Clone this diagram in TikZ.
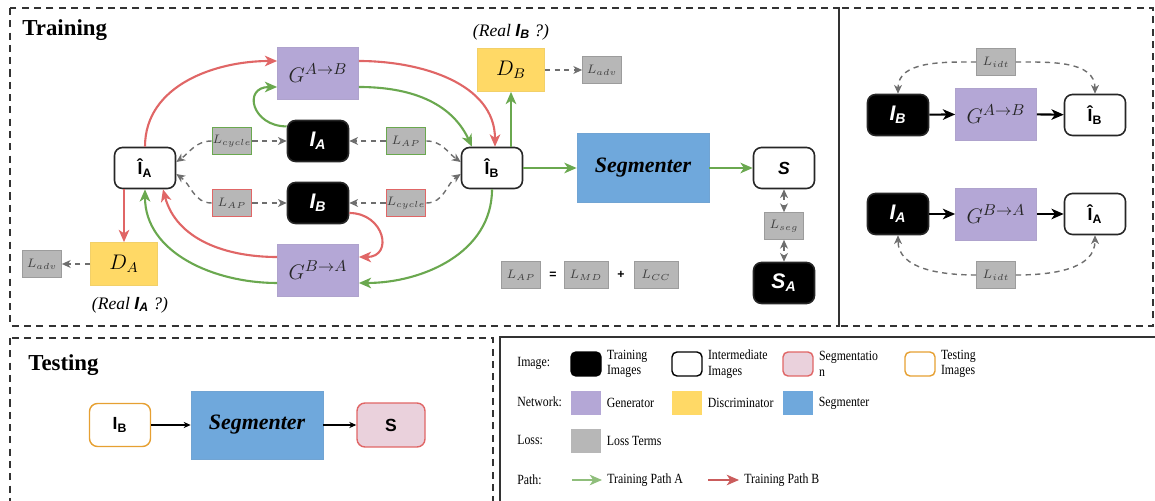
\documentclass[tikz,border=0pt]{standalone}
\usepackage{fontspec}
\setmainfont{Liberation Serif}
\setsansfont{Liberation Sans}
\newfontfamily\legfont[FakeStretch=0.84]{Liberation Serif}
\usetikzlibrary{arrows.meta,positioning}
\definecolor{pathgreen}{RGB}{106,168,79}
\definecolor{pathred}{RGB}{224,102,102}
\definecolor{genpurple}{RGB}{180,167,214}
\definecolor{discyellow}{RGB}{255,217,102}
\definecolor{segblue}{RGB}{111,168,220}
\definecolor{lossgray}{RGB}{183,183,183}
\definecolor{segpink}{RGB}{234,209,220}
\definecolor{testorange}{RGB}{230,160,50}
\definecolor{dashgray}{RGB}{110,110,110}
\newcommand{\imghat}[1]{Î\textsubscript{#1}}
\newcommand{\imgreal}[1]{I\textsubscript{#1}}
\tikzset{
    % 彩色路径箭头
    greenarrow/.style={
        line width=1.2pt,
        pathgreen,
        ->,
        >={Stealth[length=7pt, width=6pt, inset=2pt]}
    },
    redarrow/.style={
        line width=1.2pt,
        pathred,
        ->,
        >={Stealth[length=7pt, width=6pt, inset=2pt]}
    },
    % 损失的灰色虚线箭头
    lossarrow/.style={
        line width=0.8pt,
        dashgray,
        dash pattern=on 3pt off 2.5pt,
        ->,
        >={Stealth[length=5pt, width=4.5pt, inset=1.5pt]}
    },
    blackarrow/.style={
        line width=1.2pt,
        black,
        ->,
        >={Stealth[length=7pt, width=6pt, inset=2pt]}
    },
    thinarrow/.style={
        line width=0.6pt,
        black,
        ->,
        >={Stealth[length=4pt, width=3.5pt]}
    },
    imgbox/.style={
        rectangle, rounded corners=0.16cm,
        draw=black!85, line width=0.9pt, fill=white,
        minimum width=1.22cm, minimum height=0.82cm, inner sep=0pt,
        font=\sffamily\bfseries\fontsize{10}{12}\selectfont
    },
    trainbox/.style={
        imgbox, fill=black, text=white,
        font=\sffamily\bfseries\itshape\fontsize{12}{14}\selectfont
    },
    genbox/.style={
        rectangle, fill=genpurple, draw=genpurple!90!gray, line width=0.4pt,
        minimum width=1.62cm, minimum height=1.04cm, inner sep=0pt,
        text=black!85, font=\fontsize{13}{15}\selectfont
    },
    discbox/.style={
        rectangle, fill=discyellow, draw=discyellow!90!gray, line width=0.4pt,
        minimum width=1.34cm, minimum height=0.86cm, inner sep=0pt,
        font=\fontsize{12}{14}\selectfont
    },
    segbox/.style={
        rectangle, fill=segblue, draw=segblue!90!gray, line width=0.4pt,
        minimum width=2.64cm, minimum height=1.38cm, inner sep=0pt,
        font=\bfseries\itshape\fontsize{12.5}{14}\selectfont
    },
    lossbox/.style={
        rectangle, fill=lossgray, draw=lossgray!85!black, line width=0.4pt,
        minimum width=0.78cm, minimum height=0.54cm, inner sep=0pt,
        text=black!75, font=\fontsize{7}{8}\selectfont
    },
    lossgreen/.style={lossbox, draw=pathgreen, line width=1pt},
    lossred/.style={lossbox, draw=pathred, line width=1pt},
    frame/.style={dashed, line width=0.8pt, black!80, dash pattern=on 4pt off 3pt},
    paneltitle/.style={anchor=west, inner sep=0pt, font=\bfseries\fontsize{13}{15}\selectfont},
    legtext/.style={anchor=west, inner sep=0pt, align=left, font=\legfont\fontsize{8}{8.8}\selectfont},
    legswatch/.style={rectangle, minimum width=0.6cm, minimum height=0.48cm, inner sep=0pt, line width=0.6pt},
    legimg/.style={legswatch, rounded corners=0.1cm, line width=0.8pt}
}
\begin{document}
\begin{tikzpicture}[x=0.02cm, y=0.02cm]
    \useasboundingbox (0,0) rectangle (1155,500);
    \clip (0,0) rectangle (1155,500);

    % 外框
    \draw[frame] (10,492) rectangle (839,174);
    \draw[frame] (839,492) rectangle (1153,174);
    \draw[frame] (10,162) rectangle (493,-5);
    \draw[line width=1pt, black!80] (500,163) rectangle (1160,-5);

    \node[paneltitle] (traintitle) at (22,470) {Training};
    \node[paneltitle] (testtitle) at (28,135) {Testing};

    % 训练部分的节点
    \node[imgbox] (IhA) at (145,332) {\imghat{A}};
    \node[genbox] (GAB) at (318,427) {$G^{A\rightarrow B}$};
    \node[trainbox] (IA) at (318,359) {\imgreal{A}};
    \node[trainbox] (IB) at (318,297) {\imgreal{B}};
    \node[genbox] (GBA) at (318,230) {$G^{B\rightarrow A}$};
    \node[discbox] (DA) at (124,236) {$D_A$};
    \node[lossbox] (LadvA) at (42,236) {$L_{adv}$};
    \node[lossgreen] (LcycA) at (232,359) {$L_{cycle}$};
    \node[lossred] (LapA) at (232,297) {$L_{AP}$};
    \node[lossgreen] (LapB) at (406,359) {$L_{AP}$};
    \node[lossred] (LcycB) at (406,297) {$L_{cycle}$};
    \node[imgbox] (IhB) at (492,332) {\imghat{B}};
    \node[discbox] (DB) at (511,430) {$D_B$};
    \node[lossbox] (LadvB) at (602,430) {$L_{adv}$};
    \node[segbox] (Seg) at (643,332) {Segmenter};
    \node[imgbox] (S) at (784,332) {\itshape S};
    \node[lossbox] (Lseg) at (784,274) {$L_{seg}$};
    \node[trainbox] (SA) at (784,217) {S\textsubscript{A}};
    \node[font=\itshape\fontsize{10}{12}\selectfont] (realA) at (130,195)
        {(Real {\sffamily\bfseries\imgreal{A}} ?)};
    \node[font=\itshape\fontsize{10}{12}\selectfont] (realB) at (511,468)
        {(Real {\sffamily\bfseries\imgreal{B}} ?)};

    % L_AP = L_MD + L_CC
    \node[lossbox] (LAPsum) at (521,225) {$L_{AP}$};
    \node[font=\sffamily\bfseries\fontsize{7}{8}\selectfont] (eqsign) at (553,225) {=};
    \node[lossbox, minimum width=0.88cm] (LMD) at (586,225) {$L_{MD}$};
    \node[font=\sffamily\bfseries\fontsize{7}{8}\selectfont] (plussign) at (621,225) {+};
    \node[lossbox, minimum width=0.88cm] (LCC) at (656,225) {$L_{CC}$};

    % 路径 B (红色)
    \draw[redarrow] (IhA.north) to[out=90,in=180] ([yshift=0.24cm]GAB.west);
    \draw[redarrow] ([yshift=0.24cm]GAB.east) to[out=0,in=90] ([xshift=0.06cm]IhB.north);
    \draw[redarrow] ([yshift=-0.2cm]IB.east) to[out=0,in=0,looseness=2] ([yshift=0.26cm]GBA.east);
    \draw[redarrow] ([yshift=0.26cm]GBA.west) to[out=180,in=-75] ([xshift=0.36cm]IhA.south);
    \draw[redarrow] (IhA.south -| DA.north) -- (DA.north);

    % 路径 A (绿色)
    \draw[greenarrow] (IA.155) to[out=180,in=180,looseness=2.2] ([yshift=-0.28cm]GAB.west);
    \draw[greenarrow] ([yshift=-0.28cm]GAB.east) to[out=0,in=115] ([xshift=-0.4cm]IhB.north);
    \draw[greenarrow] (IhB.north -| DB.south) -- (DB.south);
    \draw[greenarrow] (IhB.south) to[out=-90,in=0] ([yshift=-0.26cm]GBA.east);
    \draw[greenarrow] ([yshift=-0.26cm]GBA.west) to[out=180,in=-90] (IhA.south);
    \draw[greenarrow] (IhB.east) -- (Seg.west);
    \draw[greenarrow] (Seg.east) -- (S.west);

    % 损失 (虚线)
    \draw[lossarrow] (LcycA.east) -- (IA.west);
    \draw[lossarrow] (LcycA.west) to[out=180,in=35] ([yshift=0.12cm]IhA.east);
    \draw[lossarrow] (LapA.east) -- (IB.west);
    \draw[lossarrow] (LapA.west) to[out=180,in=-35] ([yshift=-0.12cm]IhA.east);
    \draw[lossarrow] (LapB.west) -- (IA.east);
    \draw[lossarrow] (LapB.east) to[out=0,in=145] ([yshift=0.12cm]IhB.west);
    \draw[lossarrow] (LcycB.west) -- (IB.east);
    \draw[lossarrow] (LcycB.east) to[out=0,in=-145] ([yshift=-0.12cm]IhB.west);
    \draw[lossarrow] (DB.east) -- (LadvB.west);
    \draw[lossarrow] (DA.west) -- (LadvA.east);
    \draw[lossarrow, <->] (S.south) -- (Lseg.north);
    \draw[lossarrow, <->] (Lseg.south) -- (SA.north);

    % 右边: identity loss
    \node[trainbox] (rIB) at (898,385) {\imgreal{B}};
    \node[genbox] (rGAB) at (996,386) {$G^{A\rightarrow B}$};
    \node[imgbox] (rIhB) at (1095,385) {\imghat{B}};
    \node[lossbox] (LidtT) at (996,438) {$L_{idt}$};
    \node[trainbox] (rIA) at (898,286) {\imgreal{A}};
    \node[genbox] (rGBA) at (996,286) {$G^{B\rightarrow A}$};
    \node[imgbox] (rIhA) at (1095,286) {\imghat{A}};
    \node[lossbox] (LidtB) at (996,225) {$L_{idt}$};

    \draw[blackarrow] (rIB) -- (rGAB);
    \draw[blackarrow] (rGAB) -- (rIhB);
    \draw[blackarrow] (rIA) -- (rGBA);
    \draw[blackarrow] (rGBA) -- (rIhA);
    \draw[lossarrow] (LidtT.west) to[out=180,in=90] (rIB.north);
    \draw[lossarrow] (LidtT.east) to[out=0,in=90] (rIhB.north);
    \draw[lossarrow] (LidtB.west) to[out=180,in=-90] (rIA.south);
    \draw[lossarrow] (LidtB.east) to[out=0,in=-90] (rIhA.south);

    % 测试部分
    \node[imgbox, draw=testorange, line width=0.8pt, minimum height=0.86cm] (tIB) at (120,75) {\imgreal{B}};
    \node[segbox, minimum height=1.36cm] (tSeg) at (257,75) {Segmenter};
    \node[imgbox, draw=pathred, fill=segpink, line width=0.8pt,
          minimum width=1.36cm, minimum height=0.88cm] (tS) at (391,75) {S};
    \draw[thinarrow] (tIB) -- (tSeg);
    \draw[thinarrow] (tSeg) -- (tS);

    % 图例
    \node[legtext] (rowimg) at (517,137) {Image:};
    \node[legtext] (rownet) at (517,98) {Network:};
    \node[legtext] (rowloss) at (517,60) {Loss:};
    \node[legtext] (rowpath) at (517,20) {Path:};

    \node[legimg, fill=black, draw=black] (legtrain) at (586,136) {};
    \node[legtext, right=0.1cm of legtrain] (legtraint) {Training\\Images};
    \node[legimg, fill=white, draw=black] (leginter) at (687,136) {};
    \node[legtext, right=0.1cm of leginter] (legintert) {Intermediate\\Images};
    \node[legimg, fill=segpink, draw=pathred] (legseg) at (798,136) {};
    \node[legtext, right=0.1cm of legseg] (legsegt) {Segmentatio\\n};
    \node[legimg, fill=white, draw=testorange] (legtest) at (920,136) {};
    \node[legtext, right=0.1cm of legtest] (legtestt) {Testing\\Images};

    \node[legswatch, fill=genpurple] (leggen) at (586,97) {};
    \node[legtext, right=0.1cm of leggen] (leggent) {Generator};
    \node[legswatch, fill=discyellow] (legdisc) at (687,97) {};
    \node[legtext, right=0.1cm of legdisc] (legdisct) {Discriminator};
    \node[legswatch, fill=segblue] (legsegm) at (798,97) {};
    \node[legtext, right=0.1cm of legsegm] (legsegmt) {Segmenter};

    \node[legswatch, fill=lossgray] (legloss) at (586,59) {};
    \node[legtext, right=0.1cm of legloss] (leglosst) {Loss Terms};

    \coordinate (pathAs) at (572,20);
    \coordinate (pathAe) at (602,20);
    \draw[greenarrow, pathgreen!75, line width=1pt] (pathAs) -- (pathAe);
    \node[legtext, right=0.1cm of pathAe] (pathAt) {Training Path A};
    \coordinate (pathBs) at (708,20);
    \coordinate (pathBe) at (739,20);
    \draw[redarrow, pathred!90!black, line width=1pt] (pathBs) -- (pathBe);
    \node[legtext, right=0.1cm of pathBe] (pathBt) {Training Path B};

\end{tikzpicture}
\end{document}
